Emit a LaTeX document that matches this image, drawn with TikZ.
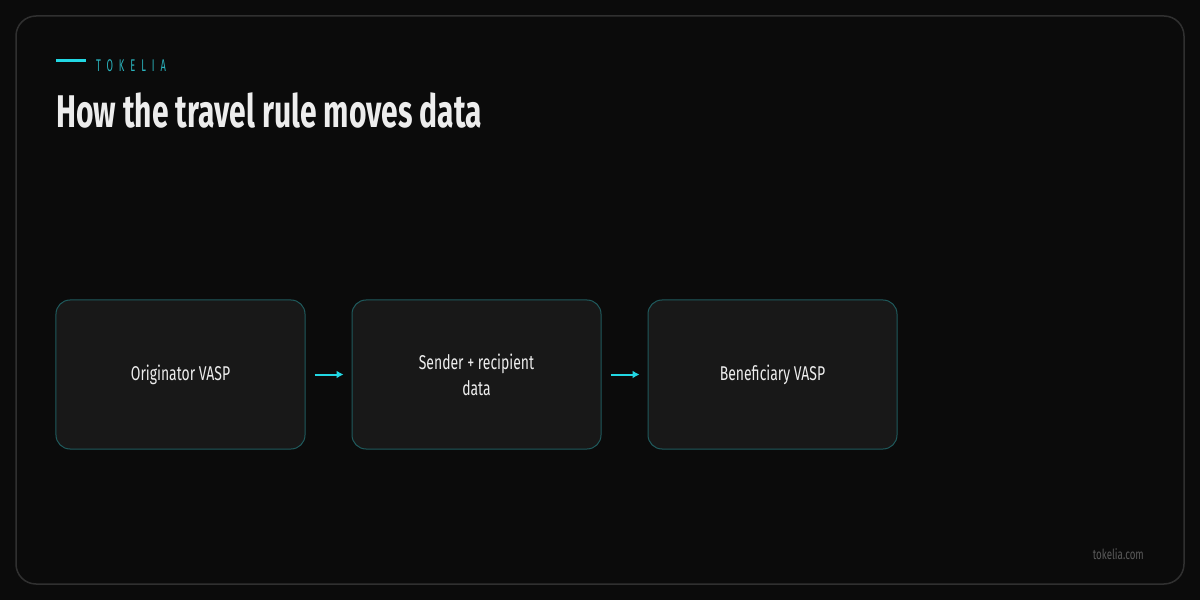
\documentclass[tikz,border=0pt]{standalone}
\usepackage{fontspec}
\usepackage{xcolor}
\setmainfont[FakeStretch=0.70]{Fira Sans}
\newfontfamily\titlefont[FakeStretch=0.655]{Fira Sans}
\newfontfamily\brandfont[FakeStretch=0.55, LetterSpace=35]{Fira Sans}
\usetikzlibrary{arrows.meta}
\usetikzlibrary{positioning}
\definecolor{bgdark}{HTML}{0B0B0B}
\definecolor{frameline}{HTML}{303030}
\definecolor{boxfill}{HTML}{181818}
\definecolor{boxline}{HTML}{1F5A5C}
\definecolor{accent}{HTML}{22D8E4}
\definecolor{brandteal}{HTML}{2AB2BC}
\definecolor{footgray}{HTML}{5A5A5A}
\definecolor{textwhite}{HTML}{EDEDED}
\tikzset{
    etape/.style = {rectangle, rounded corners=14bp, draw=boxline, fill=boxfill, line width=1bp,
        minimum width=249bp, minimum height=149bp, on grid, text=textwhite, align=center,
        font=\fontsize{20}{26}\selectfont},
    flux/.style = {->, draw=accent, line width=2bp, shorten <=9bp, shorten >=8bp},
    >={Latex[length=7bp, width=8bp]}
}

\begin{document}
\begin{tikzpicture}[x=1bp, y=-1bp]
    \fill[bgdark] (0,0) rectangle (1200,600);
    \draw[frameline, line width=1.5bp, rounded corners=20bp] (16,16) rectangle (1184,584);
    % en-tete
    \draw[accent, line width=3bp] (56,61) -- (86,61);
    \node[anchor=base west, inner sep=0pt, text=brandteal] (marque) at (96,72)
        {\brandfont\fontsize{17}{19}\selectfont TOKELIA};
    \node[anchor=base west, inner sep=0pt, text=textwhite] (titre) at (56,128)
        {\titlefont\fontsize{46}{50}\selectfont\bfseries How the travel rule moves data};
    % etapes
    \node[etape] (origine) at (180.5,374.5) {Originator VASP};
    \node[etape, right=296bp of origine] (donnees) {Sender + recipient\\data};
    \node[etape, right=296bp of donnees] (benef) {Beneficiary VASP};
    \foreach \a/\b in {origine/donnees, donnees/benef} {
            \draw[flux] (\a) -- (\b);
        }
    % pied
    \node[anchor=base east, inner sep=0pt, text=footgray] (site) at (1144,559)
        {\fontsize{14}{16}\selectfont tokelia.com};
\end{tikzpicture}
\end{document}
